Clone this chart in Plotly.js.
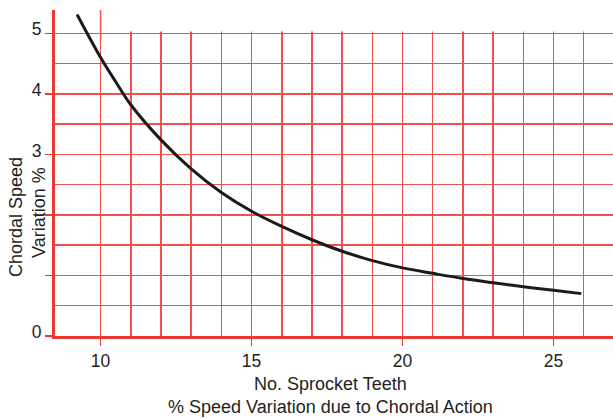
<!DOCTYPE html>
<html>
<head>
<meta charset="utf-8">
<script src="https://cdn.plot.ly/plotly-3.0.1.min.js"></script>
<style>html,body{margin:0;padding:0;background:#fff;}#chart{width:613px;height:418px;}</style>
</head>
<body>
<div id="chart"></div>
<script>
// Number of sprocket teeth
var teeth = [9.22, 10, 10.5, 11, 12, 13, 14, 15, 16, 17, 18, 19, 20, 21, 22, 23, 24, 25, 25.92];
// Chordal speed variation, %
var variation = [5.31, 4.6, 4.2, 3.82, 3.24, 2.76, 2.37, 2.06, 1.81, 1.59, 1.40, 1.245, 1.125, 1.035, 0.95, 0.88, 0.815, 0.755, 0.70];
var yTickVals = [0, 1, 2, 3, 4, 5];
var yTickText = ['0', '', '', '3', '4', '5'];
var yMinorVals = [0.5, 1.5, 2.5, 3.5, 4.5];
var xTickVals = [10, 15, 20, 25];
var xTickText = ['10', '15', '20', '25'];
var xMinorVals = [11, 12, 13, 14, 16, 17, 18, 19, 21, 22, 23, 24, 26];

var gridColor = '#f24f4f';
var axisColor = '#ec3a33';
var textColor = '#231f20';
var fontFam = 'Liberation Sans, Arial, Helvetica, sans-serif';

var trace = {
  x: teeth, y: variation, type: 'scatter', mode: 'lines',
  line: {color: '#1c1a1a', width: 3, shape: 'spline', smoothing: 1},
  hoverinfo: 'skip', showlegend: false
};

function px2paperX(px) { return (px - 55) / 558; }
function px2paperY(py) { return (336 - py) / 326; }

var layout = {
  width: 613, height: 418,
  margin: {l: 55, r: 0, t: 10, b: 82, pad: 0},
  paper_bgcolor: '#ffffff', plot_bgcolor: '#ffffff',
  font: {family: fontFam, color: textColor, size: 17.5},
  xaxis: {
    range: [8.49, 26.97],
    tickmode: 'array', tickvals: xTickVals, ticktext: xTickText,
    ticks: 'outside', ticklen: 7, tickwidth: 1.5, tickcolor: axisColor,
    showgrid: true, gridcolor: gridColor, gridwidth: 1.5,
    minor: {tickmode: 'array', tickvals: xMinorVals, showgrid: true, gridcolor: gridColor, gridwidth: 1.5, ticks: ''},
    showline: true, linecolor: axisColor, linewidth: 3,
    zeroline: false, fixedrange: true,
    tickfont: {family: fontFam, size: 17.5, color: textColor}
  },
  yaxis: {
    range: [0, 5.385],
    tickmode: 'array', tickvals: yTickVals, ticktext: yTickText,
    ticks: 'outside', ticklen: 7, tickwidth: 1.5, tickcolor: axisColor,
    ticklabelshift: -4,
    showgrid: true, gridcolor: gridColor, gridwidth: 1.5,
    minor: {tickmode: 'array', tickvals: yMinorVals, showgrid: true, gridcolor: gridColor, gridwidth: 1.5, ticks: ''},
    showline: true, linecolor: axisColor, linewidth: 3,
    zeroline: false, fixedrange: true,
    tickfont: {family: fontFam, size: 17.5, color: textColor}
  },
  shapes: [
    {type: 'rect', xref: 'x', yref: 'y', x0: 8.3, x1: 27.2, y0: 5.03, y1: 5.6,
     fillcolor: '#ffffff', line: {width: 0}, layer: 'between'},
    {type: 'line', xref: 'x', yref: 'y', x0: 10, x1: 10, y0: 4.9, y1: 5.385,
     line: {color: gridColor, width: 1.5}, layer: 'between'}
  ],
  annotations: [
    {text: 'No. Sprocket Teeth', xref: 'paper', yref: 'paper',
     x: px2paperX(330), y: px2paperY(384), xanchor: 'center', yanchor: 'middle',
     showarrow: false, font: {family: fontFam, size: 18, color: textColor}},
    {text: '% Speed Variation due to Chordal Action', xref: 'paper', yref: 'paper',
     x: px2paperX(330), y: px2paperY(407), xanchor: 'center', yanchor: 'middle',
     showarrow: false, font: {family: fontFam, size: 18, color: textColor}},
    {text: 'Chordal Speed', xref: 'paper', yref: 'paper', textangle: -90,
     x: px2paperX(16), y: px2paperY(217), xanchor: 'center', yanchor: 'middle',
     showarrow: false, font: {family: fontFam, size: 18, color: textColor}},
    {text: 'Variation %', xref: 'paper', yref: 'paper', textangle: -90,
     x: px2paperX(39), y: px2paperY(213), xanchor: 'center', yanchor: 'middle',
     showarrow: false, font: {family: fontFam, size: 18, color: textColor}}
  ]
};

Plotly.newPlot('chart', [trace], layout, {displayModeBar: false, staticPlot: true});
</script>
</body>
</html>
